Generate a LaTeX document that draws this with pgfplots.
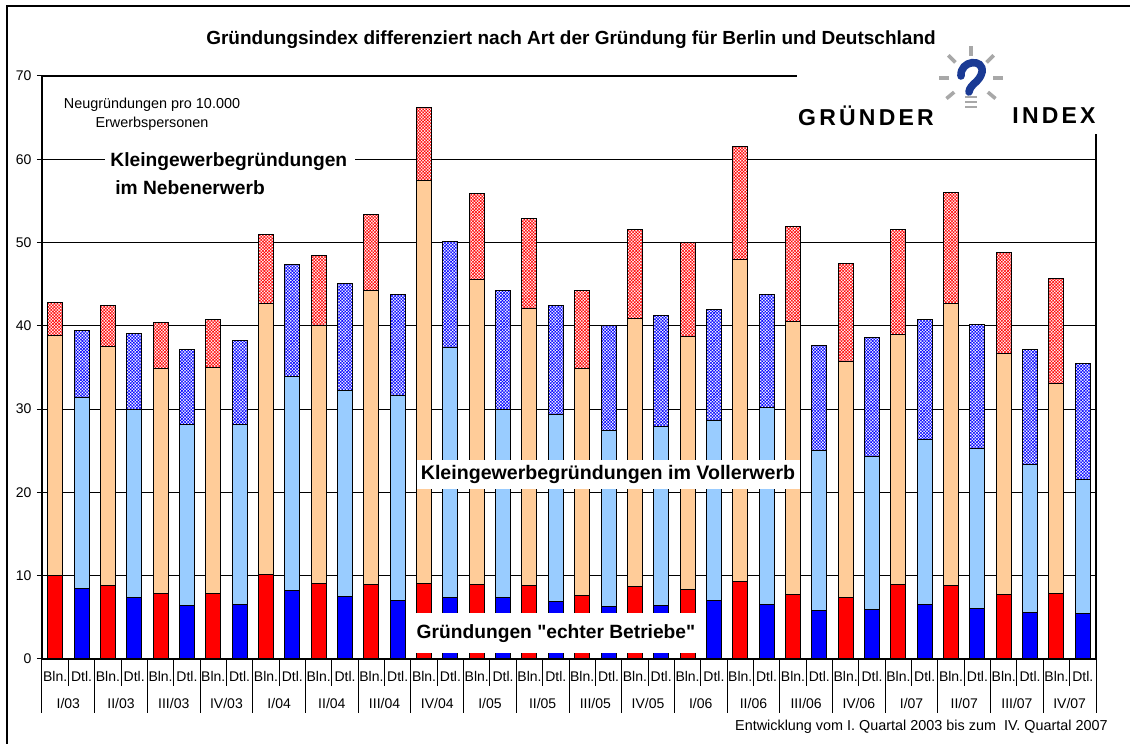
\documentclass[border=0pt]{standalone}
\usepackage{pgfplots}
\pgfplotsset{compat=1.18}
\usepackage{pgfplotstable}
\usepackage{fontspec}
\setmainfont{Liberation Sans}
\newfontfamily\plainfont{Liberation Sans}
\newfontfamily\logofont[LetterSpace=14]{Liberation Sans}
\usetikzlibrary{patterns.meta}
\definecolor{bred}{HTML}{FF0000}
\definecolor{bblue}{HTML}{0000FF}
\definecolor{peach}{HTML}{FFCC99}
\definecolor{lblue}{HTML}{99CCFF}
\definecolor{logoblue}{HTML}{1A3A94}
\definecolor{raygrey}{HTML}{A8A8A8}
\newcommand{\fs}{\fontsize{7}{8}\selectfont}

\pgfplotstableread{
x bA bB bC dA dB dC
0 10.0 28.9 3.9 0 0 0
1 0 0 0 8.5 22.9 8.0
2 8.8 28.7 4.9 0 0 0
3 0 0 0 7.4 22.5 9.2
4 7.9 27.0 5.5 0 0 0
5 0 0 0 6.4 21.7 9.1
6 7.9 27.1 5.8 0 0 0
7 0 0 0 6.6 21.6 10.1
8 10.2 32.5 8.3 0 0 0
9 0 0 0 8.2 25.7 13.5
10 9.1 31.0 8.4 0 0 0
11 0 0 0 7.5 24.7 12.9
12 8.9 35.3 9.2 0 0 0
13 0 0 0 7.0 24.6 12.2
14 9.1 48.3 8.8 0 0 0
15 0 0 0 7.4 30.0 12.7
16 9.0 36.6 10.3 0 0 0
17 0 0 0 7.4 22.6 14.2
18 8.8 33.3 10.8 0 0 0
19 0 0 0 6.9 22.5 13.0
20 7.6 27.3 9.3 0 0 0
21 0 0 0 6.3 21.1 12.6
22 8.7 32.2 10.7 0 0 0
23 0 0 0 6.4 21.5 13.3
24 8.4 30.3 11.3 0 0 0
25 0 0 0 7.0 21.6 13.4
26 9.3 38.7 13.5 0 0 0
27 0 0 0 6.6 23.6 13.6
28 7.7 32.8 11.4 0 0 0
29 0 0 0 5.8 19.2 12.6
30 7.4 28.3 11.8 0 0 0
31 0 0 0 5.9 18.4 14.3
32 9.0 30.0 12.6 0 0 0
33 0 0 0 6.6 19.8 14.4
34 8.8 33.9 13.3 0 0 0
35 0 0 0 6.1 19.2 14.9
36 7.8 28.9 12.1 0 0 0
37 0 0 0 5.6 17.8 13.8
38 7.9 25.2 12.6 0 0 0
39 0 0 0 5.5 16.1 13.9
}\data

\begin{document}
\begin{tikzpicture}
\path[use as bounding box] (0,0) rectangle (565pt,372pt);
\draw[line width=0.6pt] (3.5pt,0pt) -- (3.5pt,369pt) -- (565pt,369pt);
\begin{axis}[
  at={(21pt,42.5pt)}, anchor=south west, scale only axis,
  width=527pt, height=291.5pt,
  xmin=-0.5, xmax=39.5, ymin=0, ymax=70,
  ybar stacked, bar width=0.57,
  clip=false,
  ytick={0,10,...,70},
  ymajorgrids, major grid style={black, line width=0.45pt},
  axis line style={black, line width=0.6pt},
  tick align=outside, ytick pos=left, xtick pos=bottom,
  major tick length=2.5pt,
  tick style={black, line width=0.5pt},
  /pgf/number format/assume math mode=true,
  yticklabel style={font=\fs, xshift=0.8pt},
  xtick={0.5,2.5,...,38.5},
  xticklabels={I/03,II/03,III/03,IV/03,I/04,II/04,III/04,IV/04,I/05,II/05,III/05,IV/05,I/06,II/06,III/06,IV/06,I/07,II/07,III/07,IV/07},
  xticklabel style={font=\fs, anchor=base, yshift=-22.5pt},
  every axis plot/.append style={draw=black, line width=0.5pt},
]
\addplot[fill=bred] table[x=x, y=bA] {\data};
\addplot[fill=bblue] table[x=x, y=dA] {\data};
\addplot[fill=peach] table[x=x, y=bB] {\data};
\addplot[fill=lblue] table[x=x, y=dB] {\data};
\addplot[fill=white, postaction={pattern={Hatch[distance=1.1pt,angle=45,line width=0.28pt]}, pattern color=bred}] table[x=x, y=bC] {\data};
\addplot[fill=white, postaction={pattern={Hatch[distance=1.1pt,angle=45,line width=0.28pt]}, pattern color=bblue}] table[x=x, y=dC] {\data};

\pgfplotsinvokeforeach{-0.5,0.5,...,39.5}{
  \draw[black, line width=0.5pt] (axis cs:#1,0) -- ++(0pt,-13.5pt);
}
\pgfplotsinvokeforeach{-0.5,1.5,...,39.5}{
  \draw[black, line width=0.5pt] (axis cs:#1,0) -- ++(0pt,-27pt);
}
\pgfplotsinvokeforeach{0,2,...,38}{
  \node[font=\fs, anchor=base, yshift=-11.5pt, inner sep=0pt] at (axis cs:#1,0) {Bln.};
}
\pgfplotsinvokeforeach{1,3,...,39}{
  \node[font=\fs, anchor=base, yshift=-11.5pt, inner sep=0pt] at (axis cs:#1,0) {Dtl.};
}
\end{axis}

% title
\node[font=\fontsize{9.5}{11}\selectfont\bfseries] at (285.5pt,352pt) {Gründungsindex differenziert nach Art der Gründung für Berlin und Deutschland};
% unit note
\node[font=\fontsize{7.2}{8}\selectfont, align=center, inner sep=0pt] at (76pt,315pt) {Neugründungen pro 10.000\\[1.5pt]Erwerbspersonen};
% Nebenerwerb label
\fill[white] (52.5pt,285pt) rectangle (177.5pt,297pt);
\node[font=\fontsize{9.6}{12}\selectfont\bfseries, anchor=west, inner sep=0pt] at (55pt,291pt) {Kleingewerbegründungen};
\node[font=\fontsize{9.6}{12}\selectfont\bfseries, anchor=west, inner sep=0pt] at (57.5pt,278pt) {im Nebenerwerb};
% Vollerwerb label
\fill[white] (208.5pt,127.5pt) rectangle (400pt,142pt);
\node[font=\fontsize{9.8}{12}\selectfont\bfseries, inner sep=0pt] at (304pt,135pt) {Kleingewerbegründungen im Vollerwerb};
% echte Betriebe label
\fill[white] (203.5pt,45.5pt) rectangle (352.5pt,65.5pt);
\node[font=\fontsize{9.6}{12}\plainfont\bfseries, inner sep=0pt] at (278pt,55pt) {Gründungen "echter Betriebe"};
% logo
\fill[white] (398.5pt,305pt) rectangle (553pt,346pt);
\node[font=\fontsize{11.5}{12}\logofont\bfseries, inner sep=0pt] at (433pt,314pt) {GRÜNDER};
\node[font=\fontsize{11.5}{12}\logofont\bfseries, inner sep=0pt] at (527pt,314pt) {INDEX};
\foreach \a in {90,45,135,0,180,-40,-140}{
  \draw[raygrey, line width=1.8pt] ([shift={(\a:11pt)}]485.5pt,333pt) -- ([shift={(\a:16pt)}]485.5pt,333pt);
}
\draw[logoblue, line width=3.8pt, line cap=round]
  (480.5pt,334pt) .. controls (480pt,342pt) and (492pt,343pt) .. (491pt,336pt)
  .. controls (490pt,331pt) and (485pt,330pt) .. (484.5pt,326pt);
\foreach \yy in {323.5,321,318.5}{
  \draw[raygrey, line width=1.2pt] (482.5pt,\yy pt) -- (488.5pt,\yy pt);
}
% footer
\node[font=\fontsize{7.2}{8}\selectfont, anchor=base east, inner sep=0pt] at (554pt,6.5pt) {Entwicklung vom I. Quartal 2003 bis zum\ \ IV. Quartal 2007};
\end{tikzpicture}
\end{document}
